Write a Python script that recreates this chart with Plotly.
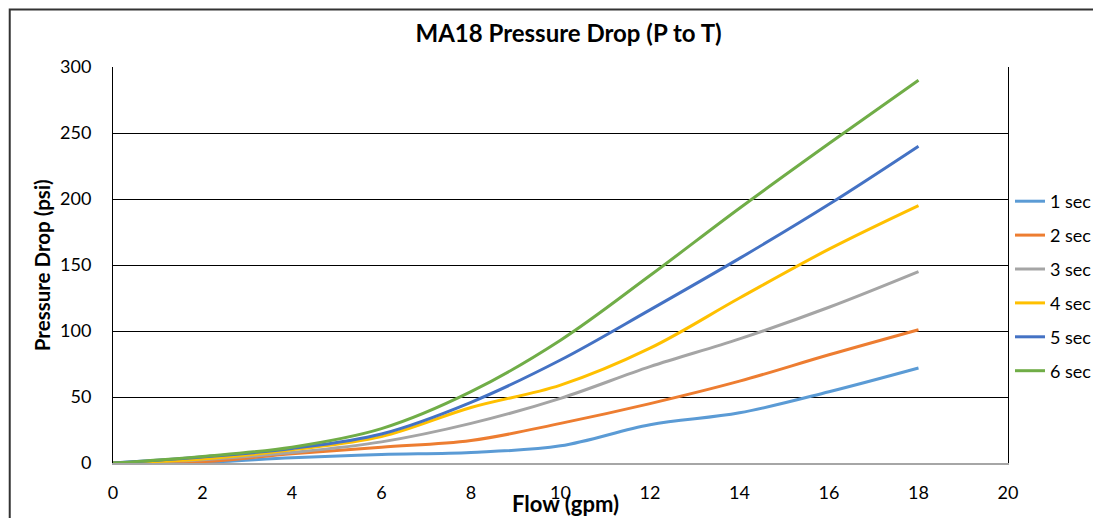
import plotly.graph_objects as go

flow = [0, 2, 4, 6, 8, 10, 12, 14, 16, 18]
sec1 = [0, 0.5, 4, 6.5, 8, 13, 29, 38, 54, 72]
sec2 = [0, 1, 7, 12, 17, 30, 45, 62, 82, 101]
sec3 = [0, 2.5, 8, 16, 30, 49, 73, 94, 118, 145]
sec4 = [0, 3, 10, 20, 42, 59, 87, 125, 162, 195]
sec5 = [0, 4.5, 11, 22, 46, 78, 116, 155, 196, 240]
sec6 = [0, 5, 12, 26, 54, 93, 142, 193, 242, 290]

names = ["1 sec", "2 sec", "3 sec", "4 sec", "5 sec", "6 sec"]
series = [sec1, sec2, sec3, sec4, sec5, sec6]
colors = ["#5B9BD5", "#ED7D31", "#A5A5A5", "#FFC000", "#4472C4", "#70AD47"]

FONT = "Lato"
OFF = 8  # page body margin offset

fig = go.Figure()
for n, s, c in zip(names, series, colors):
    fig.add_trace(go.Scatter(
        x=flow, y=s, name=n, mode="lines",
        line=dict(color=c, width=3, shape="spline", smoothing=1),
        legendgroup=n,
    ))

fig.update_layout(
    width=1101, height=518,
    margin=dict(l=113 - OFF, r=1101 - (113 - OFF) - 897, t=67 - OFF, b=518 - (67 - OFF) - 396),
    paper_bgcolor="white", plot_bgcolor="white",
    font=dict(family=FONT, color="black", size=18),
    title=dict(text="<b>MA18 Pressure Drop (P to T)</b>", x=0.509, xref="paper", xanchor="center",
               y=1 - (34 - OFF) / 518, yanchor="middle", yref="container",
               font=dict(family=FONT, size=24, color="black")),
    showlegend=True,
    legend=dict(x=(1012 - 113) / 897, y=(463 - 183) / 396, xanchor="left", yanchor="top",
                font=dict(family=FONT, size=18, color="black"),
                tracegroupgap=7.5, bgcolor="rgba(0,0,0,0)", borderwidth=0),
    xaxis=dict(range=[0, 20], dtick=2, tick0=0, showgrid=False, zeroline=False,
               showline=True, linecolor="#A6A6A6", linewidth=1.5,
               ticks="", ticklabelstandoff=13,
               tickfont=dict(family=FONT, size=18, color="black")),
    yaxis=dict(range=[0, 300], dtick=50, tick0=0, showgrid=True, gridcolor="black",
               gridwidth=1, zeroline=False, showline=True, linecolor="black",
               linewidth=1, mirror=True, ticks="", ticklabelstandoff=17,
               tickfont=dict(family=FONT, size=18, color="black")),
    annotations=[
        dict(text="<b>Flow (gpm)</b>", x=(567 - 113) / 897, y=(463 - 503) / 396, xref="paper", yref="paper",
             showarrow=False, xanchor="center", yanchor="middle",
             font=dict(family=FONT, size=22, color="black")),
        dict(text="<b>Pressure Drop (psi)</b>", x=(42 - 113) / 897, y=(463 - 265) / 396, xref="paper", yref="paper",
             showarrow=False, xanchor="center", yanchor="middle", textangle=-90,
             font=dict(family=FONT, size=20.5, color="black")),
    ],
    shapes=[
        dict(type="rect", xref="paper", yref="paper",
             x0=(9.5 - 113) / 897, x1=(1250 - 113) / 897,
             y0=(463 - 600) / 396, y1=(463 - 9.5) / 396,
             line=dict(color="#333333", width=2), layer="above"),
    ],
)

fig.write_html("out.html")
